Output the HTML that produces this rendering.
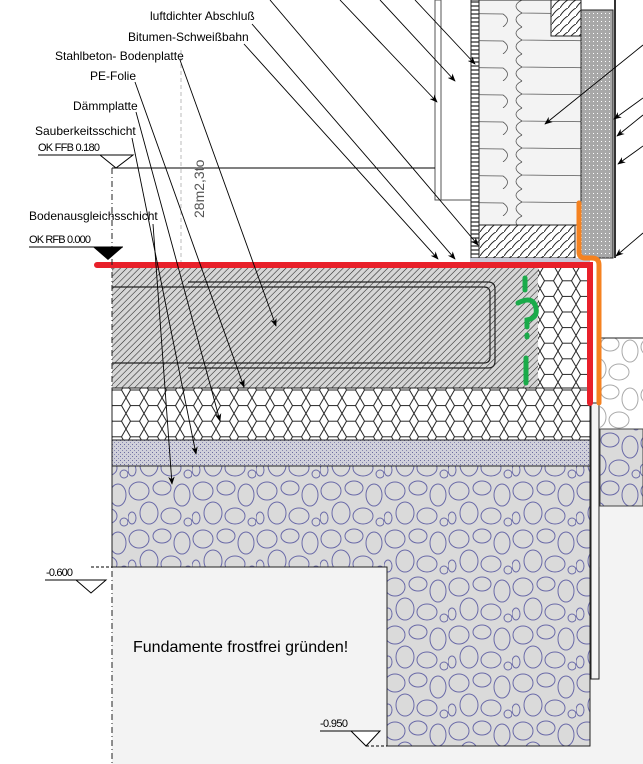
<!DOCTYPE html>
<html><head><meta charset="utf-8"><style>
html,body{margin:0;padding:0;background:#fff;}
svg{display:block;font-family:"Liberation Sans",sans-serif;}
</style></head><body>
<svg width="643" height="764" viewBox="0 0 643 764" xmlns="http://www.w3.org/2000/svg">
<defs>
<pattern id="hatch" width="4.5" height="4.5" patternUnits="userSpaceOnUse" patternTransform="rotate(45)">
<rect width="5" height="5" fill="#d6d6d6"/><line x1="0" y1="0" x2="0" y2="4.5" stroke="#222" stroke-width="1.1"/>
</pattern>
<pattern id="hex" width="18" height="15.6" patternUnits="userSpaceOnUse">
<rect width="18" height="15.6" fill="#fff"/>
<path d="M0 7.8 L4.5 0 L13.5 0 L18 7.8 L13.5 15.6 L4.5 15.6 Z" fill="none" stroke="#222" stroke-width="1"/>
</pattern>
<pattern id="sand" width="4" height="4" patternUnits="userSpaceOnUse">
<rect width="4" height="4" fill="#d0d0da"/><rect x="0" y="0" width="1" height="1" fill="#6c6ca0"/><rect x="2" y="2" width="1" height="1" fill="#8888b0"/>
</pattern>
<pattern id="gravel" width="64" height="48" patternUnits="userSpaceOnUse">
<rect width="64" height="48" fill="#dadada"/>
<g fill="none" stroke="#6a6aa8" stroke-width="1">
<ellipse cx="11" cy="11" rx="10" ry="9"/><ellipse cx="34" cy="8" rx="9" ry="7"/><ellipse cx="54" cy="15" rx="8" ry="11"/>
<ellipse cx="21" cy="33" rx="9" ry="11"/><ellipse cx="43" cy="36" rx="10" ry="8"/><ellipse cx="4" cy="38" rx="4" ry="6"/>
<ellipse cx="60" cy="42" rx="4" ry="4"/>
</g></pattern>
<pattern id="gravel2" width="64" height="48" patternUnits="userSpaceOnUse">
<rect width="64" height="48" fill="#fff"/>
<g fill="none" stroke="#aaa" stroke-width="1">
<ellipse cx="11" cy="11" rx="10" ry="9"/><ellipse cx="34" cy="8" rx="9" ry="7"/><ellipse cx="54" cy="15" rx="8" ry="11"/>
<ellipse cx="21" cy="33" rx="9" ry="11"/><ellipse cx="43" cy="36" rx="10" ry="8"/></g></pattern>
<pattern id="dots" width="4" height="4" patternUnits="userSpaceOnUse">
<rect width="4" height="4" fill="#a8a8a8"/><rect x="1" y="1" width="1" height="1" fill="#fff"/>
</pattern>
<pattern id="ins" width="102" height="27" patternUnits="userSpaceOnUse">
<rect width="102" height="27" fill="#f3f3f3"/>
<path d="M12 0 Q0 6 12 13 L95 14 Q104 20 95 27" fill="none" stroke="#555" stroke-width="0.8"/>
<path d="M12 13 Q0 19 12 27" fill="none" stroke="#555" stroke-width="0.8"/>
</pattern>
<pattern id="wood" width="8" height="8" patternUnits="userSpaceOnUse">
<rect width="8" height="8" fill="#fff"/><path d="M0 8 Q4 2 8 0" stroke="#222" fill="none"/></pattern>
<pattern id="batten" width="8" height="4" patternUnits="userSpaceOnUse">
<rect width="8" height="4" fill="#fff"/><line x1="0" y1="2" x2="8" y2="2" stroke="#222" stroke-width="1.2"/></pattern>
<marker id="ar" viewBox="0 0 10 10" refX="9" refY="5" markerWidth="9" markerHeight="9" orient="auto"><path d="M0 1 L10 5 L0 9 L3 5Z" fill="#000"/></marker>
</defs>

<rect x="112" y="567" width="531" height="197" fill="#f3f3f3"/>
<rect x="600" y="506" width="43" height="70" fill="#f3f3f3"/>

<rect x="600" y="338" width="43" height="91" fill="url(#gravel2)"/>
<line x1="600" y1="338" x2="643" y2="338" stroke="#222"/>
<rect x="600" y="429" width="43" height="77" fill="url(#gravel)" stroke="#444"/>

<rect x="112" y="268" width="476" height="120" fill="url(#hatch)"/>
<rect x="538" y="268" width="50" height="120" fill="url(#hex)"/>
<path d="M188 282 H488 Q495 282 495 289 V361 Q495 368 488 368 H188" fill="none" stroke="#222" stroke-width="1.2"/>
<path d="M112 287 H484 Q490 287 490 293 V357 Q490 363 484 363 H112" fill="none" stroke="#222" stroke-width="1.2"/>
<rect x="112" y="388" width="478" height="52" fill="url(#hex)" stroke="#222"/>
<rect x="112" y="440" width="478" height="26" fill="url(#sand)" stroke="#222"/>
<path d="M112 466 H590 V746 H387 V567 H112 Z" fill="url(#gravel)" stroke="#222"/>
<rect x="591" y="403" width="8" height="276" fill="#f4f4f4" stroke="#222"/>

<rect x="435" y="0" width="6" height="200" fill="#fff" stroke="#555"/>
<line x1="441" y1="200" x2="472" y2="200" stroke="#555"/>
<line x1="112" y1="168" x2="435" y2="168" stroke="#000"/>
<rect x="471" y="0" width="8" height="258" fill="url(#batten)" stroke="#222"/>
<rect x="479" y="0" width="102" height="225" fill="url(#ins)" stroke="#222"/>
<rect x="551" y="0" width="30" height="36" fill="url(#wood)" stroke="#222"/>
<rect x="479" y="225" width="96" height="33" fill="url(#wood)" stroke="#222"/>
<rect x="581" y="10" width="32" height="248" fill="url(#dots)" stroke="#222"/>
<line x1="615" y1="0" x2="615" y2="258" stroke="#333" stroke-width="2"/>
<rect x="470" y="258" width="120" height="6" fill="#c8c8d8"/>

<path d="M97 265 H590 V403" fill="none" stroke="#e8202a" stroke-width="6" stroke-linecap="round"/>
<path d="M579 203 V252 Q579 258 585 258 H592 Q599 258 599 265 V403" fill="none" stroke="#f58220" stroke-width="5" stroke-linecap="round"/>
<g stroke="#1aab4a" stroke-width="5" stroke-linecap="round" fill="none">
<line x1="525" y1="278" x2="525" y2="290"/>
<path d="M518 303 Q533 295 536 308 Q538 318 527 320 L527 327"/>
<line x1="527" y1="335" x2="527" y2="337"/>
<line x1="526" y1="358" x2="526" y2="383"/>
</g>

<line x1="112" y1="168" x2="112" y2="764" stroke="#222" stroke-dasharray="6,3,1,3"/>
<line x1="181" y1="50" x2="181" y2="262" stroke="#bbb" stroke-dasharray="4,3"/>
<text x="204" y="218" font-size="14" fill="#555" transform="rotate(-90 204 218)">28m2,3to</text>

<g font-size="12" fill="#000">
<text x="150" y="20">luftdichter Abschluß</text>
<text x="128" y="41">Bitumen-Schweißbahn</text>
<text x="55" y="60">Stahlbeton- Bodenplatte</text>
<text x="90" y="80">PE-Folie</text>
<text x="73" y="110">Dämmplatte</text>
<text x="35" y="135">Sauberkeitsschicht</text>
<text x="29" y="220">Bodenausgleichsschicht</text>
</g>
<g font-size="11" fill="#000">
<text x="38" y="151" textLength="62">OK FFB 0.180</text>
<text x="29" y="243" textLength="62">OK RFB 0.000</text>
<text x="46" y="576" textLength="27">-0.600</text>
<text x="320" y="727" textLength="28">-0.950</text>
</g>
<line x1="38" y1="155" x2="133" y2="155" stroke="#000"/>
<path d="M100 155 L133 155 L116 168 Z" fill="#fff" stroke="#000"/>
<line x1="29" y1="247" x2="123" y2="247" stroke="#000"/>
<path d="M93 247 L123 247 L108 260 Z" fill="#000"/>
<line x1="45" y1="580" x2="106" y2="580" stroke="#000"/>
<path d="M76 580 L106 580 L91 593 Z" fill="#fff" stroke="#000"/>
<line x1="91" y1="567" x2="112" y2="567" stroke="#000" stroke-dasharray="3,2"/>
<line x1="320" y1="731" x2="380" y2="731" stroke="#000"/>
<path d="M351 731 L380 731 L366 746 Z" fill="#fff" stroke="#000"/>
<line x1="366" y1="746" x2="387" y2="746" stroke="#000" stroke-dasharray="3,2"/>

<text x="133" y="652" font-size="16" fill="#000">Fundamente frostfrei gründen!</text>

<g stroke="#000" stroke-width="0.9" fill="none" marker-end="url(#ar)">
<line x1="252" y1="24" x2="455" y2="259"/>
<line x1="244" y1="44" x2="438" y2="259"/>
<line x1="270" y1="0" x2="478" y2="245"/>
<line x1="180" y1="60" x2="276" y2="326"/>
<line x1="135" y1="82" x2="244" y2="387"/>
<line x1="136" y1="112" x2="220" y2="421"/>
<line x1="132" y1="138" x2="196" y2="454"/>
<line x1="153" y1="224" x2="172" y2="484"/>
<line x1="340" y1="0" x2="437" y2="102"/>
<line x1="380" y1="0" x2="455" y2="81"/>
<line x1="415" y1="0" x2="475" y2="64"/>
<line x1="643" y1="45" x2="545" y2="124"/>
<line x1="643" y1="98" x2="614" y2="119"/>
<line x1="643" y1="115" x2="617" y2="136"/>
<line x1="643" y1="146" x2="618" y2="164"/>
<line x1="643" y1="233" x2="616" y2="256"/>
</g>
</svg>
</body></html>
